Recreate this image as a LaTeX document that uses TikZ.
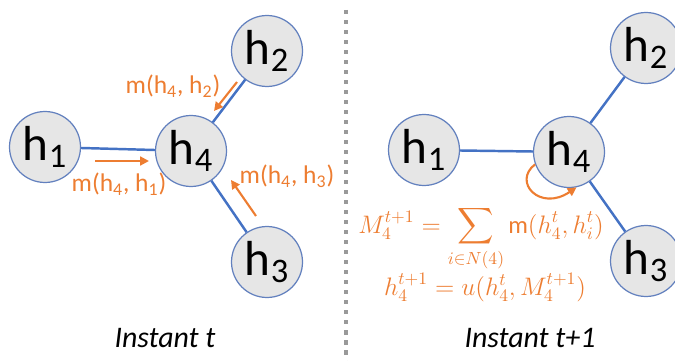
\documentclass[tikz,border=0pt]{standalone}
\usepackage{amsmath}
\usepackage{fontspec}
\setmainfont{Carlito}
\usetikzlibrary{arrows.meta}
\definecolor{nodeblue}{RGB}{98,128,190}
\definecolor{edgeblue}{RGB}{68,114,196}
\definecolor{msgorange}{RGB}{237,125,49}
\definecolor{nodegray}{RGB}{230,230,230}
\newcommand{\hlab}[1]{h$_{\text{#1}}$}

\begin{document}
\begin{tikzpicture}[
    x=0.02cm, y=-0.02cm,
    hnode/.style = {circle, draw=nodeblue, line width=0.7pt, fill=nodegray, minimum size=1.42cm, inner sep=0pt, font=\fontsize{28}{30}\selectfont},
    edge/.style = {draw=edgeblue, line width=1.4pt},
    msg/.style = {draw=msgorange, line width=1.2pt, -{Triangle[length=5pt,width=5pt]}},
    msglabel/.style = {text=msgorange, font=\fontsize{14.5}{16}\selectfont, inner sep=0pt},
    eqlabel/.style = {text=msgorange, font=\fontsize{14}{17}\selectfont, inner sep=0pt, anchor=base},
    caption/.style = {font=\fontsize{17}{19}\selectfont\itshape, inner sep=0pt},
    divider/.style = {draw=gray!80, line width=2.3pt, dash pattern=on 2.3pt off 3.4pt}
]
\useasboundingbox (0,0) rectangle (675,361);

% Nodes: instant t
\node (l_h1) [hnode] at (45,147) {\hlab{1}};
\node (l_h4) [hnode] at (191,151) {\hlab{4}};
\node (l_h2) [hnode] at (267,51) {\hlab{2}};
\node (l_h3) [hnode] at (267,262) {\hlab{3}};

% Nodes: instant t+1
\node (r_h1) [hnode] at (424,150) {\hlab{1}};
\node (r_h4) [hnode] at (569,152) {\hlab{4}};
\node (r_h2) [hnode] at (646,48) {\hlab{2}};
\node (r_h3) [hnode] at (646,261) {\hlab{3}};

% Connections
\draw [edge] (l_h1) -- (l_h4);
\draw [edge] (l_h4) -- (l_h2);
\draw [edge] (l_h4) -- (l_h3);
\draw [edge] (r_h1) -- (r_h4);
\draw [edge] (r_h4) -- (r_h2);
\draw [edge] (r_h4) -- (r_h3);

% Messages
\coordinate (m1_s) at (95,161);  \coordinate (m1_e) at (149,161);
\coordinate (m2_s) at (237,82);  \coordinate (m2_e) at (214,111);
\coordinate (m3_s) at (256,216); \coordinate (m3_e) at (231,180);
\draw [msg] (m1_s) -- (m1_e);
\draw [msg] (m2_s) -- (m2_e);
\draw [msg] (m3_s) -- (m3_e);
\node (lab_m1) [msglabel] at (119,184) {m(\hlab{4}, \hlab{1})};
\node (lab_m2) [msglabel] at (173,86) {m(\hlab{4}, \hlab{2})};
\node (lab_m3) [msglabel] at (287,176) {m(\hlab{4}, \hlab{3})};

% Update
\draw [msg] (r_h4.200) .. controls (512,182) and (540,212) .. (r_h4.282);
\node (eq_msg) [eqlabel] at (481,233) {$\displaystyle M_4^{t+1} = \sum_{i\in N(4)} \text{m}(h_4^t,h_i^t)$};
\node (eq_upd) [eqlabel] at (485,295) {$h_4^{t+1} = u(h_4^t, M_4^{t+1})$};

% Divider and captions
\coordinate (div_top) at (346,10);
\coordinate (div_bot) at (346,361);
\draw [divider] (div_top) -- (div_bot);
\node (cap_t) [caption] at (165,338) {Instant t};
\node (cap_t1) [caption] at (530,338) {Instant t+1};

\end{tikzpicture}
\end{document}
